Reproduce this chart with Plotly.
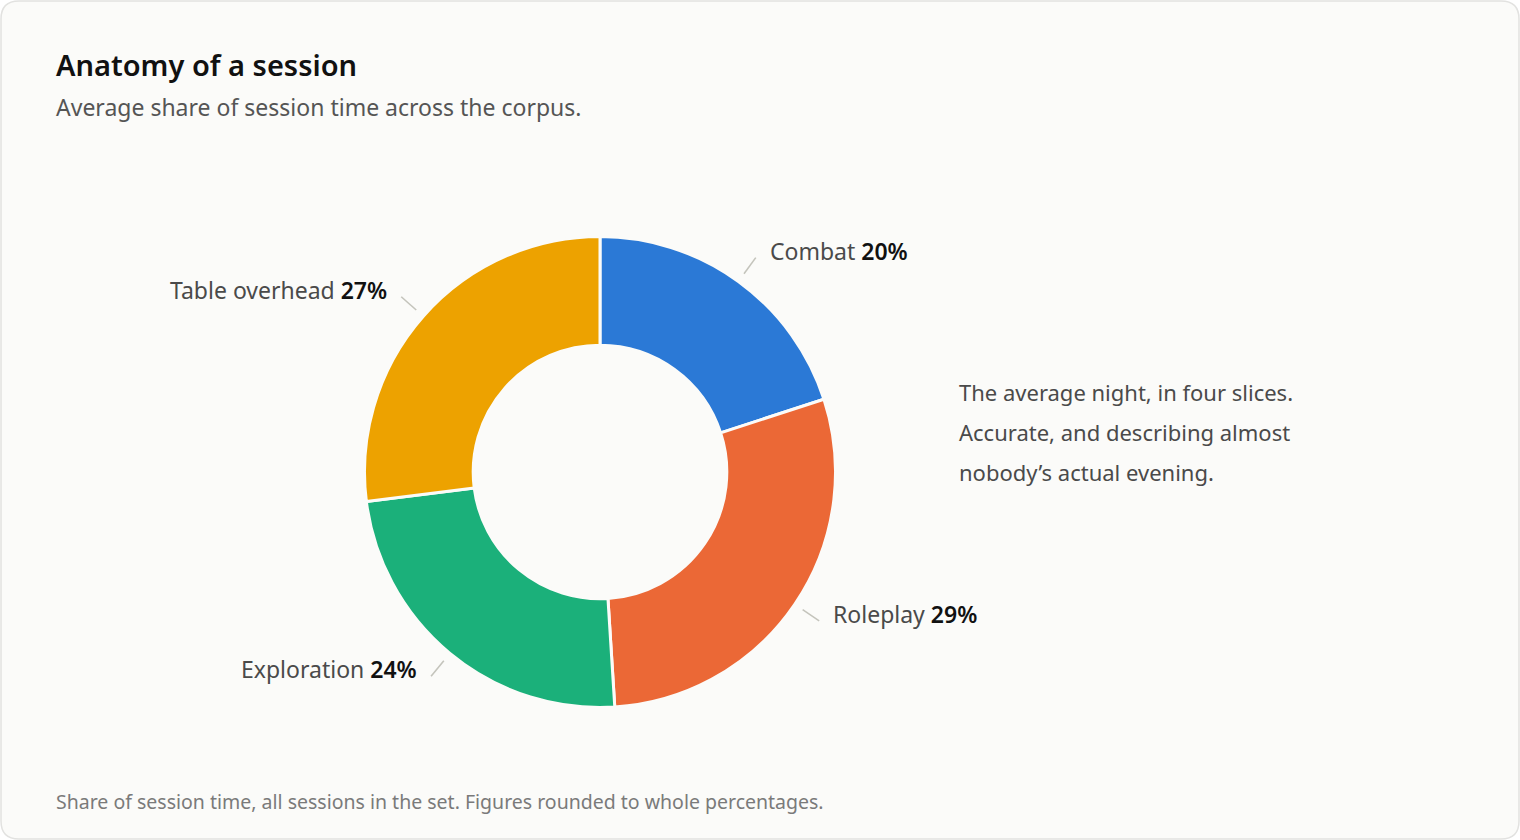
import math
import plotly.graph_objects as go

# --- dados ---
categorias = ["Combat", "Roleplay", "Exploration", "Table overhead"]
percentagens = [20, 29, 24, 27]
cores = ["#2b79d6", "#eb6836", "#1bb07a", "#eda200"]

titulo = "Anatomy of a session"
subtitulo = "Average share of session time across the corpus."
nota_linhas = [
    "The average night, in four slices.",
    "Accurate, and describing almost",
    "nobody\u2019s actual evening.",
]
rodape = "Share of session time, all sessions in the set. Figures rounded to whole percentages."

# --- geometria (pixeis) ---
W, H = 1520, 840
CX, CY, R = 600, 472, 234
R_DOMINIO = 235.5  # o plotly encolhe um pouco o raio dentro do dominio
FONTE = "Segoe UI, Noto Sans, Open Sans, sans-serif"
PAD = 3  # folga interna das anotacoes


def px2x(px):
    return px / W


def py2y(py):
    return 1 - py / H


fig = go.Figure()
fig.add_trace(go.Pie(
    labels=categorias,
    values=percentagens,
    hole=126 / 234,
    sort=False,
    direction="clockwise",
    rotation=0,
    marker=dict(colors=cores, line=dict(color="#fbfbf9", width=3)),
    textinfo="none",
    hoverinfo="label+percent",
    showlegend=False,
    domain=dict(x=[px2x(CX - R_DOMINIO), px2x(CX + R_DOMINIO)],
                y=[py2y(CY + R_DOMINIO), py2y(CY - R_DOMINIO)]),
))

shapes = []
annotations = []

# cartao de fundo com cantos arredondados
x0, y0, x1, y1, rr = 1, 1, 1519, 839, 18
caminho = (
    f"M {px2x(x0 + rr)} {py2y(y0)} L {px2x(x1 - rr)} {py2y(y0)} "
    f"Q {px2x(x1)} {py2y(y0)} {px2x(x1)} {py2y(y0 + rr)} "
    f"L {px2x(x1)} {py2y(y1 - rr)} Q {px2x(x1)} {py2y(y1)} {px2x(x1 - rr)} {py2y(y1)} "
    f"L {px2x(x0 + rr)} {py2y(y1)} Q {px2x(x0)} {py2y(y1)} {px2x(x0)} {py2y(y1 - rr)} "
    f"L {px2x(x0)} {py2y(y0 + rr)} Q {px2x(x0)} {py2y(y0)} {px2x(x0 + rr)} {py2y(y0)} Z"
)
shapes.append(dict(type="path", xref="paper", yref="paper", path=caminho,
                   fillcolor="#fbfbf9", line=dict(color="#e2e2e0", width=1.5), layer="below"))

# linhas de chamada e rotulos
total = sum(percentagens)
acum = 0
for nome, valor in zip(categorias, percentagens):
    meio = (acum + valor / 2) / total * 2 * math.pi
    acum += valor
    s, c = math.sin(meio), math.cos(meio)
    ax, ay = CX + (R + 11) * s, CY - (R + 11) * c
    bx, by = CX + (R + 31) * s, CY - (R + 31) * c
    shapes.append(dict(type="line", xref="paper", yref="paper",
                       x0=px2x(ax), y0=py2y(ay), x1=px2x(bx), y1=py2y(by),
                       line=dict(color="#c4c4bc", width=1.6)))
    direita = s >= 0
    tx = bx + 15 - PAD if direita else bx - 15 + PAD
    annotations.append(dict(
        x=px2x(tx), y=py2y(by - 7), xref="paper", yref="paper",
        xanchor="left" if direita else "right", yanchor="middle",
        text=f"{nome} <span style='color:#111111;font-weight:600'>{valor}%</span>",
        showarrow=False, font=dict(family=FONTE, size=23, color="#4a4a4a"),
    ))

# titulo, subtitulo, nota e rodape
annotations.append(dict(x=px2x(57 - PAD), y=py2y(65), xref="paper", yref="paper", xanchor="left",
                        yanchor="middle", text=titulo, showarrow=False,
                        font=dict(family=FONTE, size=29, color="#111111", weight=600)))
annotations.append(dict(x=px2x(57 - PAD), y=py2y(107), xref="paper", yref="paper", xanchor="left",
                        yanchor="middle", text=subtitulo, showarrow=False,
                        font=dict(family=FONTE, size=23, color="#555555")))
for i, linha in enumerate(nota_linhas):
    annotations.append(dict(x=px2x(960 - PAD), y=py2y(392 + 40 * i), xref="paper", yref="paper",
                            xanchor="left", yanchor="middle", text=linha, showarrow=False,
                            font=dict(family=FONTE, size=22, color="#4a4a4a")))
annotations.append(dict(x=px2x(57 - PAD), y=py2y(801), xref="paper", yref="paper", xanchor="left",
                        yanchor="middle", text=rodape, showarrow=False,
                        font=dict(family=FONTE, size=19.5, color="#7a7a7a")))

fig.update_layout(
    width=W, height=H,
    margin=dict(l=0, r=0, t=0, b=0),
    paper_bgcolor="#ffffff",
    plot_bgcolor="#ffffff",
    shapes=shapes,
    annotations=annotations,
    font=dict(family=FONTE),
)

# tirar a margem do body para a figura ocupar a janela toda
fig.write_html("out.html", config={"displayModeBar": False},
               post_script="document.body.style.margin='0';")
